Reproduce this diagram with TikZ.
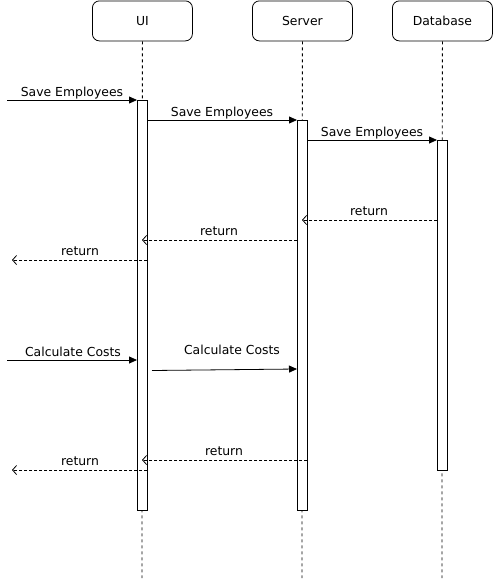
\documentclass[tikz,border=0pt]{standalone}
\usepackage{fontspec}
\setmainfont{DejaVu Sans}
\usetikzlibrary{arrows.meta}
\begin{document}
\begin{tikzpicture}[x=1pt,y=-1pt,
  every node/.style={font=\fontsize{12.4}{14}\selectfont},
  head/.style={draw, line width=0.8pt, rounded corners=7pt, minimum width=100pt, minimum height=40pt, inner sep=0pt, anchor=north west},
  act/.style={draw, fill=white, line width=0.9pt, minimum width=10pt, inner sep=0pt, anchor=north},
  life/.style={line width=0.8pt, dash pattern=on 3pt off 3pt},
  call/.style={line width=0.8pt, -{Triangle[length=8pt,width=7pt]}},
  ret/.style={line width=0.8pt, dash pattern=on 3pt off 2pt, -{Straight Barb[length=4pt,width=9pt]}},
  lbl/.style={inner sep=0pt, anchor=base}]
\useasboundingbox (0,0) rectangle (493,581);
% heads
\node[head] (ui) at (92,0.5) {UI};
\node[head] (srv) at (252,0.5) {Server};
\node[head] (db) at (392,0.5) {Database};
% lifelines
\coordinate (uiE) at (142,578);
\coordinate (srvE) at (302,578);
\coordinate (dbE) at (442,578);
\draw[life] (ui.south) -- (uiE);
\draw[life] (srv.south) -- (srvE);
\draw[life] (db.south) -- (dbE);
% activations
\node[act, minimum height=410pt] (uiA) at (142,100) {};
\node[act, minimum height=390pt] (srvA) at (302,120) {};
\node[act, minimum height=330pt] (dbA) at (442,140) {};
% message end coordinates
\coordinate (m1s) at (7,100);   \coordinate (m1e) at (137,100);
\coordinate (m2s) at (147,120); \coordinate (m2e) at (297,120);
\coordinate (m3s) at (307,140); \coordinate (m3e) at (437,140);
\coordinate (m4s) at (437,220); \coordinate (m4e) at (302,220);
\coordinate (m5s) at (297,240); \coordinate (m5e) at (142,240);
\coordinate (m6s) at (147,260); \coordinate (m6e) at (12,260);
\coordinate (m7s) at (7,360);   \coordinate (m7e) at (137,360);
\coordinate (m8s) at (152,370.5); \coordinate (m8e) at (297,369);
\coordinate (m9s) at (307,460); \coordinate (m9e) at (142,460);
\coordinate (m10s) at (147,470); \coordinate (m10e) at (12,470);
% messages
\draw[call] (m1s) -- (m1e);
\draw[call] (m2s) -- (m2e);
\draw[call] (m3s) -- (m3e);
\draw[ret] (m4s) -- (m4e);
\draw[ret] (m5s) -- (m5e);
\draw[ret] (m6s) -- (m6e);
\draw[call] (m7s) -- (m7e);
\draw[call] (m8s) -- (m8e);
\draw[ret] (m9s) -- (m9e);
\draw[ret] (m10s) -- (m10e);
% labels
\node[lbl] (l1) at (72,96) {Save Employees};
\node[lbl] (l2) at (222,116) {Save Employees};
\node[lbl] (l3) at (372,136) {Save Employees};
\node[lbl] (l4) at (369,215) {return};
\node[lbl] (l5) at (219,235) {return};
\node[lbl] (l6) at (80,255) {return};
\node[lbl] (l7) at (73,356) {Calculate Costs};
\node[lbl] (l8) at (232,354) {Calculate Costs};
\node[lbl] (l9) at (224,455) {return};
\node[lbl] (l10) at (80,465) {return};
\end{tikzpicture}
\end{document}
